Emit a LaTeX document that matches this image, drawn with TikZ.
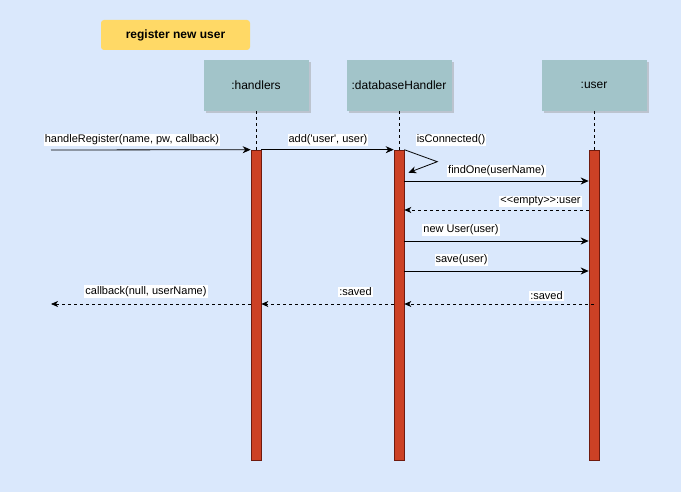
\documentclass[tikz,border=0pt]{standalone}
\usepackage{fontspec}
\setmainfont{Liberation Sans}[Ligatures=TeXOff]
\usetikzlibrary{positioning,arrows.meta,shadows}

\definecolor{bgblue}{HTML}{DAE8FC}
\definecolor{titlegold}{HTML}{FFD966}
\definecolor{headteal}{HTML}{A2C4C9}
\definecolor{barred}{HTML}{CC4125}
\definecolor{bardark}{HTML}{6F1A0E}

\begin{document}
\begin{tikzpicture}[
    x=1pt, y=-1pt,
    % Define styles for the different parts of the diagram
    title/.style={rectangle, rounded corners=3pt, fill=titlegold, minimum width=149pt, minimum height=30pt, font=\fontsize{12}{14}\selectfont\bfseries},
    head/.style={rectangle, fill=headteal, minimum width=105pt, minimum height=51pt, font=\fontsize{12}{14}\selectfont, drop shadow={shadow xshift=2.5pt, shadow yshift=-2.5pt, fill=black!40, opacity=0.45}},
    bar/.style={rectangle, draw=bardark, fill=barred, minimum width=10pt, minimum height=310pt, inner sep=0pt, line width=0.6pt},
    life/.style={line width=0.7pt, dash pattern=on 3pt off 3pt},
    msg/.style={-{Stealth[length=8pt, width=7pt, inset=2.5pt]}, line width=0.8pt},
    reply/.style={-{Stealth[length=7pt, width=6pt, inset=2pt]}, line width=0.8pt, dash pattern=on 3pt off 3pt},
    msg_label/.style={fill=white, inner sep=1pt, font=\fontsize{11}{13}\selectfont}
]
    % Background
    \fill[bgblue] (0,0) rectangle (681,492);
    \useasboundingbox (0,0) rectangle (681,492);

    % Title
    \node[title] (ttl) at (175.5,35) {register new user};

    % Lifeline heads
    \node[head] (hnd) at (256,85.5) {:handlers};
    \node[head] (dbh) at (399,85.5) {:databaseHandler};
    \node[head] (usr) at (594,85.5) {:user};

    % Activation bars
    \node[bar] (actH) at (256,305) {};
    \node[bar] (actD) at (399,305) {};
    \node[bar] (actU) at (594,305) {};

    % Lifelines
    \draw[life] (hnd.south) -- (actH.north);
    \draw[life] (dbh.south) -- (actD.north);
    \draw[life] (usr.south) -- (actU.north);

    % Message rows
    \coordinate (hrStart) at (51,150);
    \coordinate (cbEnd) at (51,304);
    \coordinate (r1) at (0,181);
    \coordinate (r2) at (0,210);
    \coordinate (r3) at (0,241);
    \coordinate (r4) at (0,271);
    \coordinate (r5) at (0,304);

    % Calls
    \draw[msg] (hrStart) -- (actH.north west);
    \draw[msg] (actH.north east) -- (actD.north west);
    \draw[msg] (actD.north east) -- ++(33,12) -- ++(-29,11);
    \draw[msg] (actD.east |- r1) -- (actU.west |- r1);
    \draw[reply] (actU.west |- r2) -- (actD.east |- r2);
    \draw[msg] (actD.east |- r3) -- (actU.west |- r3);
    \draw[msg] (actD.east |- r4) -- (actU.west |- r4);

    % Replies
    \draw[reply] (actU.center |- r5) -- (actD.east |- r5);
    \draw[reply] (actD.west |- r5) -- (actH.east |- r5);
    \draw[reply] (actH.west |- r5) -- (cbEnd);

    % Labels
    \node[msg_label] (lHr) at (132,140) {handleRegister(name, pw, callback)};
    \node[msg_label] (lAdd) at (328,140) {add('user', user)};
    \node[msg_label] (lCon) at (451,140) {isConnected()};
    \node[msg_label] (lFind) at (496.5,171) {findOne(userName)};
    \node[msg_label] (lEmpty) at (540.5,201.5) {<<empty>>:user};
    \node[msg_label] (lNew) at (461,230) {new User(user)};
    \node[msg_label] (lSave) at (461.5,260) {save(user)};
    \node[msg_label] (lSavedU) at (546.5,296) {:saved};
    \node[msg_label] (lSavedD) at (355.5,292) {:saved};
    \node[msg_label] (lCb) at (146,291.5) {callback(null, userName)};

\end{tikzpicture}
\end{document}
